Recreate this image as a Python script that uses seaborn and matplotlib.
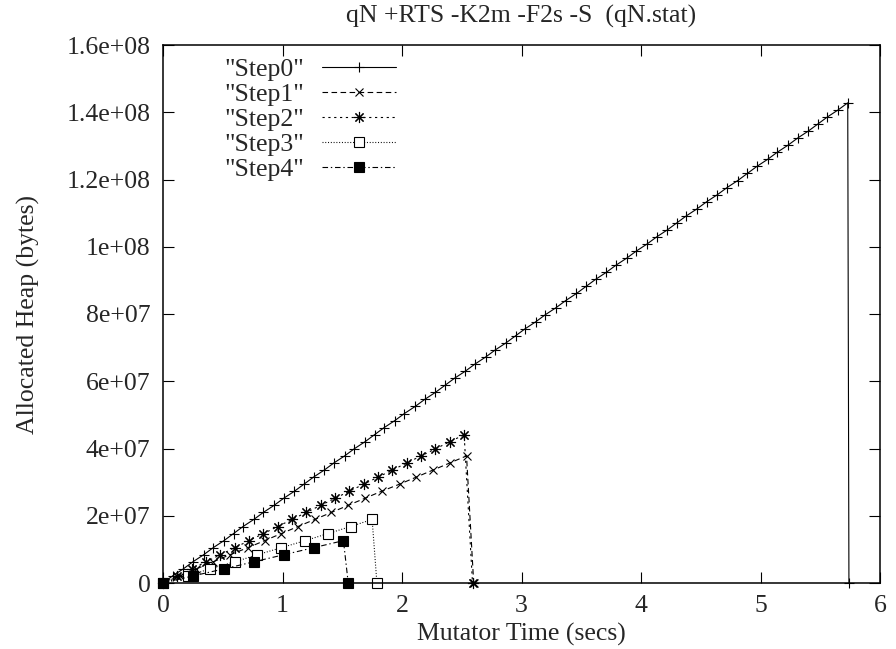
import numpy as np
import pandas as pd
import matplotlib
matplotlib.use("Agg")
import matplotlib.pyplot as plt
import seaborn as sns
from matplotlib.ticker import FixedLocator, FixedFormatter

# ---------------- data ----------------
title = "qN +RTS -K2m -F2s -S  (qN.stat)"
x_label = "Mutator Time (secs)"
y_label = "Allocated Heap (bytes)"
series_names = ['"Step0"', '"Step1"', '"Step2"', '"Step3"', '"Step4"']

step0_x = [0.00, 0.08, 0.17, 0.25, 0.34, 0.42, 0.51, 0.59, 0.67, 0.76,
           0.84, 0.93, 1.01, 1.10, 1.18, 1.26, 1.35, 1.43, 1.52, 1.60,
           1.69, 1.77, 1.85, 1.94, 2.02, 2.11, 2.19, 2.28, 2.36, 2.44,
           2.53, 2.61, 2.70, 2.78, 2.87, 2.95, 3.03, 3.12, 3.20, 3.29,
           3.37, 3.46, 3.54, 3.62, 3.71, 3.79, 3.88, 3.96, 4.05, 4.13,
           4.22, 4.30, 4.38, 4.47, 4.55, 4.64, 4.72, 4.81, 4.89, 4.97,
           5.06, 5.14, 5.23, 5.31, 5.40, 5.48, 5.56, 5.65, 5.73, 5.74]
# heap values in millions of bytes
step0_y = [0.0, 2.1, 4.2, 6.3, 8.4, 10.5, 12.6, 14.7, 16.8, 18.9,
           21.0, 23.1, 25.2, 27.3, 29.4, 31.5, 33.6, 35.7, 37.8, 39.9,
           42.0, 44.1, 46.2, 48.3, 50.4, 52.5, 54.6, 56.7, 58.8, 60.9,
           63.0, 65.1, 67.2, 69.3, 71.4, 73.5, 75.6, 77.7, 79.8, 81.9,
           84.0, 86.1, 88.2, 90.3, 92.4, 94.5, 96.6, 98.7, 100.8, 102.9,
           105.0, 107.1, 109.2, 111.3, 113.4, 115.5, 117.6, 119.7, 121.8, 123.9,
           126.0, 128.1, 130.2, 132.3, 134.4, 136.5, 138.6, 140.7, 142.8, 0.0]

step1_x = [0.00, 0.14, 0.28, 0.42, 0.56, 0.71, 0.85, 0.99, 1.13, 1.27,
           1.41, 1.55, 1.69, 1.83, 1.98, 2.12, 2.26, 2.40, 2.54, 2.60]
step1_y = [0.0, 2.1, 4.2, 6.3, 8.4, 10.5, 12.6, 14.7, 16.8, 18.9,
           21.0, 23.1, 25.2, 27.3, 29.4, 31.5, 33.6, 35.7, 37.8, 0.0]

step2_x = [0.00, 0.12, 0.24, 0.36, 0.48, 0.60, 0.72, 0.84, 0.96, 1.08,
           1.20, 1.32, 1.44, 1.56, 1.68, 1.80, 1.92, 2.04, 2.16, 2.28,
           2.40, 2.52, 2.59]
step2_y = [0.0, 2.1, 4.2, 6.3, 8.4, 10.5, 12.6, 14.7, 16.8, 18.9,
           21.0, 23.1, 25.2, 27.3, 29.4, 31.5, 33.6, 35.7, 37.8, 39.9,
           42.0, 44.1, 0.0]

step3_x = [0.00, 0.21, 0.39, 0.60, 0.79, 0.99, 1.19, 1.38, 1.57, 1.75, 1.79]
step3_y = [0.0, 2.1, 4.2, 6.3, 8.4, 10.5, 12.6, 14.7, 16.8, 18.9, 0.0]

step4_x = [0.00, 0.25, 0.51, 0.76, 1.01, 1.26, 1.51, 1.55]
step4_y = [0.0, 2.1, 4.2, 6.3, 8.4, 10.5, 12.6, 0.0]

x_ticks = [0, 1, 2, 3, 4, 5, 6]
x_tick_labels = ["0", "1", "2", "3", "4", "5", "6"]
y_ticks = [0, 2e7, 4e7, 6e7, 8e7, 1e8, 1.2e8, 1.4e8, 1.6e8]
y_tick_labels = ["0", "2e+07", "4e+07", "6e+07", "8e+07", "1e+08",
                 "1.2e+08", "1.4e+08", "1.6e+08"]

# ---------------- style ----------------
sns.set_style("ticks")
plt.rcParams["font.family"] = ["Liberation Serif", "DejaVu Serif"]
plt.rcParams["lines.scale_dashes"] = False
FS = 18.5

all_x = [step0_x, step1_x, step2_x, step3_x, step4_x]
all_y = [step0_y, step1_y, step2_y, step3_y, step4_y]
frames = []
for name, xs, ys in zip(series_names, all_x, all_y):
    frames.append(pd.DataFrame({"series": name, "time": xs,
                                "heap": np.asarray(ys) * 1e6}))
df = pd.concat(frames, ignore_index=True)

styles = {
    '"Step0"': dict(linestyle="-", marker="+", ms=7.5, mfc="black"),
    '"Step1"': dict(linestyle=(0, (4, 2.5)), marker="x", ms=6, mfc="black"),
    '"Step2"': dict(linestyle=(0, (1.6, 2.6)), marker=(8, 2, 0), ms=8, mfc="black"),
    '"Step3"': dict(linestyle=(0, (0.7, 1.3)), marker="s", ms=6.5, mfc="white"),
    '"Step4"': dict(linestyle=(0, (4, 2, 1, 2)), marker="s", ms=7, mfc="black"),
}

fig = plt.figure(figsize=(8.96, 6.49), dpi=100)
ax = fig.add_axes([163 / 896, 66 / 649, 717 / 896, 538 / 649])

for name in series_names:
    st = styles[name]
    sub = df[df["series"] == name]
    sns.lineplot(data=sub, x="time", y="heap", ax=ax, sort=False,
                 estimator=None, color="black", linewidth=0.8,
                 linestyle=st["linestyle"], marker=st["marker"],
                 markersize=st["ms"], markerfacecolor=st["mfc"],
                 markeredgecolor="black", markeredgewidth=0.8,
                 clip_on=False, label=name)

ax.set_xlim(0, 6)
ax.set_ylim(0, 1.6e8)
ax.xaxis.set_major_locator(FixedLocator(x_ticks))
ax.xaxis.set_major_formatter(FixedFormatter(x_tick_labels))
ax.yaxis.set_major_locator(FixedLocator(y_ticks))
ax.yaxis.set_major_formatter(FixedFormatter(y_tick_labels))
ax.tick_params(axis="both", which="major", direction="in", length=8,
               width=0.8, top=True, right=True, labelsize=FS, color="black")
ax.tick_params(axis="x", pad=9)
ax.tick_params(axis="y", pad=9)
for sp in ax.spines.values():
    sp.set_visible(True)
    sp.set_linewidth(1.1)
    sp.set_color("black")

ax.set_xlabel(x_label, fontsize=FS)
ax.set_ylabel(y_label, fontsize=FS)
ax.xaxis.set_label_coords(0.5, -0.075)
ax.yaxis.set_label_coords(-0.172, 0.5)
ax.set_title(title, fontsize=FS, pad=16)

handles, labels = ax.get_legend_handles_labels()
leg = ax.legend(handles, labels, loc="upper left",
                bbox_to_anchor=(0.086, 0.976), frameon=False,
                markerfirst=False, numpoints=1, handlelength=2.85,
                handletextpad=0.7, labelspacing=0.08, borderpad=0,
                borderaxespad=0, fontsize=FS)

fig.savefig("out.png", dpi=100, facecolor="white")
